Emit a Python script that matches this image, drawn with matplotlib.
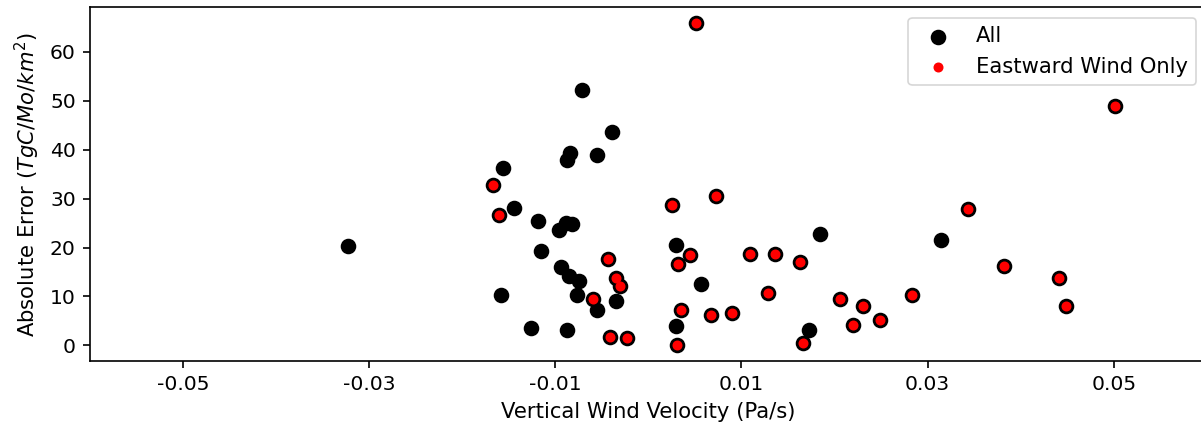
import matplotlib
matplotlib.use('Agg')
from matplotlib import pyplot as plt

# every point (black)
all_x = [-0.0071, -0.00395, -0.00846, -0.00875, -0.00556, -0.01559, -0.0144, -0.0119,
         -0.00961, -0.00882, -0.00825, -0.03231, -0.0115, -0.00936, -0.00854, -0.00747,
         -0.00768, -0.01584, -0.00549, -0.00345, -0.01265, -0.00879, 0.00292, 0.00561,
         0.003, 0.01842, 0.01724, 0.03142,
         0.0051, -0.01673, -0.01606, -0.00431, -0.00352, -0.00306, -0.00592, -0.00409,
         -0.00234, 0.00257, 0.00729, 0.00443, 0.00317, 0.00353, 0.00668, 0.00897,
         0.00303, 0.0109, 0.01356, 0.01624, 0.0128, 0.0166, 0.02054, 0.02304,
         0.022, 0.0249, 0.0283, 0.03432, 0.03819, 0.0441, 0.04489, 0.05015]
all_y = [52.2, 43.7, 39.4, 37.9, 38.9, 36.2, 28.0, 25.4,
         23.6, 25.0, 24.9, 20.3, 19.2, 16.1, 14.2, 13.2,
         10.4, 10.3, 7.3, 9.0, 3.6, 3.1, 20.6, 12.5,
         4.0, 22.7, 3.06, 21.6,
         65.8, 32.7, 26.7, 17.6, 13.8, 12.2, 9.5, 1.8,
         1.6, 28.7, 30.6, 18.4, 16.7, 7.3, 6.3, 6.6,
         0.15, 18.6, 18.7, 17.1, 10.8, 0.6, 9.4, 8.0,
         4.1, 5.2, 10.3, 27.9, 16.2, 13.7, 8.0, 48.9]

# eastward wind subset (red)
east_x = [0.0051, -0.01673, -0.01606, -0.00431, -0.00352, -0.00306, -0.00592, -0.00409,
          -0.00234, 0.00257, 0.00729, 0.00443, 0.00317, 0.00353, 0.00668, 0.00897,
          0.00303, 0.0109, 0.01356, 0.01624, 0.0128, 0.0166, 0.02054, 0.02304,
          0.022, 0.0249, 0.0283, 0.03432, 0.03819, 0.0441, 0.04489, 0.05015]
east_y = [65.8, 32.7, 26.7, 17.6, 13.8, 12.2, 9.5, 1.8,
          1.6, 28.7, 30.6, 18.4, 16.7, 7.3, 6.3, 6.6,
          0.15, 18.6, 18.7, 17.1, 10.8, 0.6, 9.4, 8.0,
          4.1, 5.2, 10.3, 27.9, 16.2, 13.7, 8.0, 48.9]

ticks = [-0.05, -0.03, -0.01, 0.01, 0.03, 0.05]
tick_labels = ['-0.05', '-0.03', '-0.01', '0.01', '0.03', '0.05']

# the original looks like a 10pt figure saved at higher dpi, so scale things up
plt.rcParams['font.size'] = 15.2
plt.rcParams['axes.linewidth'] = 1.2
plt.rcParams['axes.labelpad'] = 6.0
plt.rcParams['patch.linewidth'] = 1.2
for a in ['xtick', 'ytick']:
    plt.rcParams[a + '.major.size'] = 5.1
    plt.rcParams[a + '.major.width'] = 1.2
    plt.rcParams[a + '.major.pad'] = 5.1

fig = plt.figure(figsize=(12.01, 4.30), dpi=100)
ax = fig.add_axes([0.0749, 0.161, 0.93, 0.822])

ax.scatter(all_x, all_y, s=100, c='black', label='All')
ax.scatter(east_x, east_y, s=36, c='red', label='Eastward Wind Only')

ax.set_xlim(-0.06, 0.06)
ax.set_xticks(ticks)
ax.set_xticklabels(tick_labels)
ax.tick_params(labelsize=14.6)
ax.set_xlabel('Vertical Wind Velocity (Pa/s)')
ax.set_ylabel('Absolute Error ($TgC/Mo/km^2$)')
ax.legend(loc='upper right')

fig.savefig('out.png', dpi=100)
